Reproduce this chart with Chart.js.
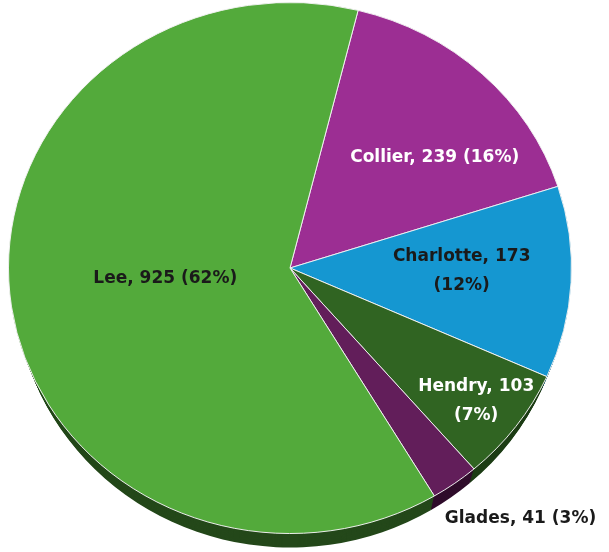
<!DOCTYPE html>
<html>
<head>
<meta charset="utf-8">
<script src="https://cdn.jsdelivr.net/npm/chart.js@4.4.1/dist/chart.umd.min.js"></script>
<style>
  html, body { margin: 0; padding: 0; background: #fff; overflow: hidden; }
  #wrap { position: relative; width: 609px; height: 552px; overflow: hidden; }
  #pie { position: absolute; left: 0; top: 0; }
</style>
</head>
<body>
<div id="wrap"><canvas id="pie" width="609" height="600"></canvas></div>
<script>
// ---------- data ----------
const counties = ['Collier', 'Charlotte', 'Hendry', 'Glades', 'Lee'];
const counts = [239, 173, 103, 41, 925];
const percents = ['16%', '12%', '7%', '3%', '62%'];

// ---------- styling ----------
const topColors = ['#9c2e93', '#1597d1', '#306422', '#621e5a', '#53aa3b'];
const sideColors = ['#5a1a55', '#0c5a7e', '#1c3c14', '#2f0c2b', '#24481a'];
const labelColors = ['#ffffff', '#1a1a1a', '#ffffff', '#1a1a1a', '#1a1a1a'];
const labelLines = [
  ['Collier, 239 (16%)'],
  ['Charlotte, 173', '(12%)'],
  ['Hendry, 103', '(7%)'],
  ['Glades, 41 (3%)'],
  ['Lee, 925 (62%)']
];
// radial position of each label as a share of the radius, plus small angle nudge (deg)
const labelRadius = [0.662, 0.61, 0.83, 1.25, 0.445];
const labelNudge = [7.9, -2, 0.5, -5.1, 3.1];

const squash = 266 / 282;   // vertical tilt of the pie
const targetCy = 268;       // screen centre of the tilted pie
const depth = 14;           // thickness of the side edge

function tilt(ctx, arc) {
  ctx.translate(arc.x, targetCy);
  ctx.scale(1, squash);
  ctx.translate(-arc.x, -arc.y);
}

const tiltPlugin = {
  id: 'tilt',
  beforeDatasetsDraw(chart) {
    const ctx = chart.ctx;
    const arcs = chart.getDatasetMeta(0).data;
    ctx.save();
    tilt(ctx, arcs[0]);
    // side edge: the pie pushed down in darker tones, a touch narrower so it hides at the sides
    for (let d = depth; d >= 1; d--) {
      arcs.forEach((a, i) => {
        const cy = a.y + d / squash;
        ctx.beginPath();
        ctx.moveTo(a.x, cy);
        ctx.ellipse(a.x, cy, a.outerRadius - d * 0.45, a.outerRadius, 0, a.startAngle, a.endAngle);
        ctx.closePath();
        ctx.fillStyle = sideColors[i];
        ctx.fill();
      });
    }
  },
  afterDatasetsDraw(chart) {
    const ctx = chart.ctx;
    ctx.restore();
    const arcs = chart.getDatasetMeta(0).data;
    ctx.save();
    ctx.font = 'bold 17px "DejaVu Sans", "Open Sans", sans-serif';
    ctx.textAlign = 'center';
    ctx.textBaseline = 'middle';
    arcs.forEach((a, i) => {
      const mid = (a.startAngle + a.endAngle) / 2 + labelNudge[i] * Math.PI / 180;
      const r = a.outerRadius * labelRadius[i];
      const x = a.x + Math.cos(mid) * r;
      const y = targetCy + Math.sin(mid) * r * squash;
      const lines = labelLines[i];
      ctx.fillStyle = labelColors[i];
      lines.forEach((t, j) => {
        ctx.fillText(t, x, y + (j - (lines.length - 1) / 2) * 29);
      });
    });
    ctx.restore();
  }
};

new Chart(document.getElementById('pie').getContext('2d'), {
  type: 'pie',
  data: {
    labels: counties,
    datasets: [{
      data: counts,
      backgroundColor: topColors,
      borderColor: '#f2f2f2',
      borderWidth: 1
    }]
  },
  options: {
    responsive: false,
    animation: false,
    rotation: 14,
    layout: { padding: { left: 8, right: 37, top: 0, bottom: 36 } },
    plugins: {
      legend: { display: false },
      tooltip: { enabled: false }
    }
  },
  plugins: [tiltPlugin]
});
</script>
</body>
</html>
